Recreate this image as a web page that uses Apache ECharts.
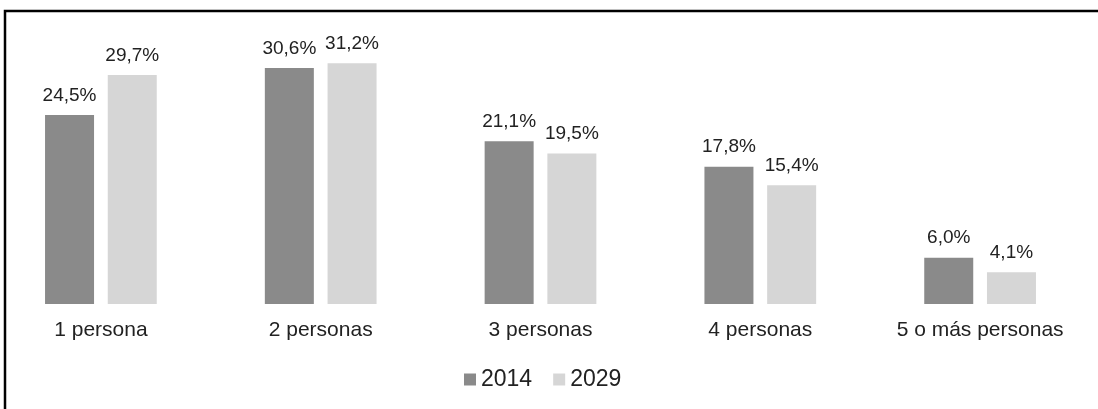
<!DOCTYPE html>
<html>
<head>
<meta charset="utf-8">
<script src="https://cdn.jsdelivr.net/npm/echarts@6/dist/echarts.min.js"></script>
<style>
html, body { margin: 0; padding: 0; background: #fff; }
#chart { width: 1098px; height: 409px; }
</style>
</head>
<body>
<div id="chart"></div>
<script>
var categories = ['1 persona', '2 personas', '3 personas', '4 personas', '5 o más personas'];
var values2014 = [24.5, 30.6, 21.1, 17.8, 6.0];
var values2029 = [29.7, 31.2, 19.5, 15.4, 4.1];
var seriesNames = ['2014', '2029'];

function pct(p) {
	return p.value.toFixed(1).replace('.', ',') + '%';
}

var labelOpt = {
	show: true,
	position: 'top',
	distance: 10,
	formatter: pct,
	fontFamily: 'Liberation Sans',
	fontSize: 19,
	color: '#222'
};

var option = {
	animation: false,
	grid: {
		left: -9,
		right: 8,
		top: 34,
		bottom: 105,
		outerBoundsMode: 'none'
	},
	legend: {
		data: seriesNames,
		left: 464,
		top: 368,
		padding: 0,
		icon: 'rect',
		itemWidth: 12,
		itemHeight: 12,
		itemGap: 21,
		textStyle: {
			fontFamily: 'Liberation Sans',
			fontSize: 23,
			color: '#222'
		}
	},
	xAxis: {
		type: 'category',
		data: categories,
		axisLine: { show: false },
		axisTick: { show: false },
		axisLabel: {
			margin: 16,
			fontFamily: 'Liberation Sans',
			fontSize: 21,
			color: '#222'
		}
	},
	yAxis: {
		type: 'value',
		min: 0,
		max: 35,
		show: false,
		splitLine: { show: false }
	},
	series: [
		{
			name: seriesNames[0],
			type: 'bar',
			data: values2014,
			barWidth: 49,
			barGap: '28%',
			itemStyle: { color: '#8a8a8a' },
			label: labelOpt
		},
		{
			name: seriesNames[1],
			type: 'bar',
			data: values2029,
			barWidth: 49,
			itemStyle: { color: '#d6d6d6' },
			label: labelOpt
		}
	],
	graphic: [
		{
			type: 'polyline',
			shape: { points: [[5, 409], [5, 11], [1098, 11]] },
			style: { stroke: '#000', lineWidth: 2.5, fill: null }
		}
	]
};

var chart = echarts.init(document.getElementById('chart'));
chart.setOption(option);
</script>
</body>
</html>
